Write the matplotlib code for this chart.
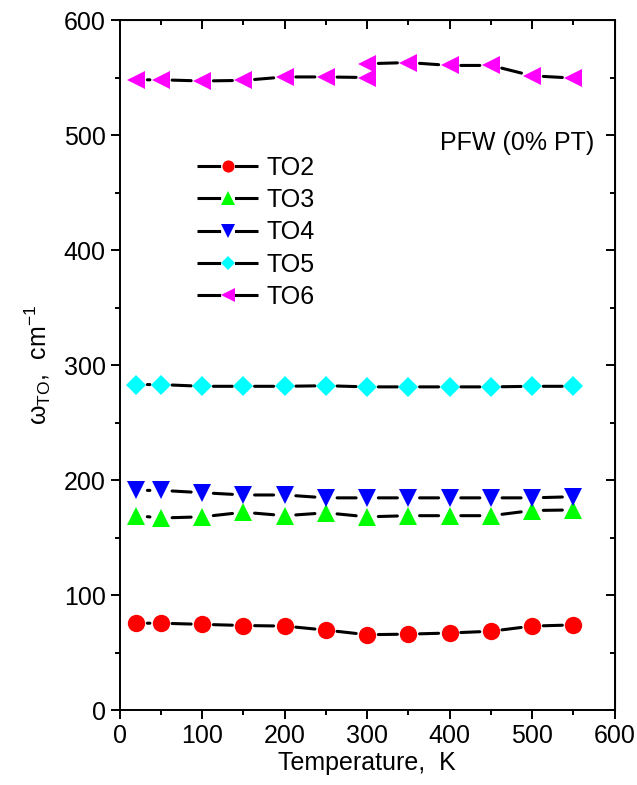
import matplotlib
matplotlib.use("Agg")
from matplotlib import pyplot as plt
from matplotlib.lines import Line2D
from matplotlib.ticker import MultipleLocator

plt.rcParams['font.family'] = ['Liberation Sans', 'DejaVu Sans']
plt.rcParams['mathtext.fontset'] = 'custom'
plt.rcParams['mathtext.rm'] = 'Liberation Sans'
plt.rcParams['mathtext.it'] = 'Liberation Sans:italic'
plt.rcParams['lines.scale_dashes'] = False

temps = [20, 50, 100, 150, 200, 250, 300, 350, 400, 450, 500, 550]
# TO6 has two points at 300 K
temps6 = [20, 50, 100, 150, 200, 250, 300, 300, 350, 400, 450, 500, 550]

to2 = [75.5, 75.5, 74.5, 73.5, 73, 69.5, 65.5, 66, 67, 68.5, 73, 74]
to3 = [169, 167, 168, 172, 169, 171.5, 168, 169, 169, 169, 173.5, 174]
to4 = [191, 191, 189, 187, 187, 184.5, 184.5, 184.5, 184.5, 184.5, 184.5, 185.5]
to5 = [283, 283, 281.5, 281.5, 281.5, 282, 281, 281, 281, 281, 281.5, 281.5]
to6 = [548, 548, 547, 547.5, 550.5, 550.5, 550, 562, 563, 560.5, 560.5, 551.5, 549.5]

series = [
    ("TO2", temps, to2, 'o', '#ff0000', 12.5),
    ("TO3", temps, to3, '^', '#00ff00', 13.5),
    ("TO4", temps, to4, 'v', '#0000ff', 13.5),
    ("TO5", temps, to5, 'D', '#00ffff', 10.5),
    ("TO6", temps6, to6, '<', '#ff00ff', 13.5),
]

fig = plt.figure(figsize=(6.37, 7.85), dpi=100)
ax = fig.add_axes([0.188, 0.0955, 0.777, 0.879])

handles = []
for name, xs, ys, mk, col, ms in series:
    # connecting segments stop short of the symbols
    for i in range(len(xs) - 1):
        ax.annotate('', xy=(xs[i + 1], ys[i + 1]), xytext=(xs[i], ys[i]),
                    arrowprops=dict(arrowstyle='-', lw=2.2, color='k',
                                    shrinkA=8, shrinkB=8))
    ax.plot(xs, ys, linestyle='none', marker=mk, ms=ms, color=col,
            markeredgewidth=0, zorder=3)
    handles.append(Line2D([], [], color='k', lw=2.2, linestyle=(0, (17, 10)),
                          marker=mk, ms=ms * 0.7, markerfacecolor=col,
                          markeredgewidth=0, label=name))

ax.set_xlim(0, 600)
ax.set_ylim(0, 600)
ax.xaxis.set_major_locator(MultipleLocator(100))
ax.xaxis.set_minor_locator(MultipleLocator(50))
ax.yaxis.set_major_locator(MultipleLocator(100))
ax.yaxis.set_minor_locator(MultipleLocator(50))
ax.tick_params(which='both', direction='out', labelsize=18, width=1.4)
ax.tick_params(which='major', length=6.5)
ax.tick_params(which='minor', length=3.5)
for s in ax.spines.values():
    s.set_linewidth(1.4)

# inward ticks on top and right, no labels
top = ax.secondary_xaxis('top')
right = ax.secondary_yaxis('right')
for sec in (top, right):
    sec.tick_params(which='both', direction='in', width=1.4, labelsize=0)
    sec.tick_params(which='major', length=6.5)
    sec.tick_params(which='minor', length=3.5)
top.xaxis.set_major_locator(MultipleLocator(100))
top.xaxis.set_minor_locator(MultipleLocator(50))
right.yaxis.set_major_locator(MultipleLocator(100))
right.yaxis.set_minor_locator(MultipleLocator(50))
top.set_xticklabels([])
right.set_yticklabels([])

ax.set_xlabel("Temperature,  K", fontsize=18, labelpad=2)
ax.set_ylabel("ω$_{\\mathrm{TO}}$,  cm$^{-1}$", fontsize=18, labelpad=8)

ax.text(0.958, 0.822, "PFW (0% PT)", transform=ax.transAxes,
        ha='right', va='center', fontsize=18)

ax.legend(handles=handles, loc='upper left', bbox_to_anchor=(0.156, 0.803),
          frameon=False, fontsize=18, handlelength=2.45, handletextpad=0.35,
          labelspacing=0.33, borderaxespad=0, borderpad=0)

plt.savefig("out.png", dpi=100)
